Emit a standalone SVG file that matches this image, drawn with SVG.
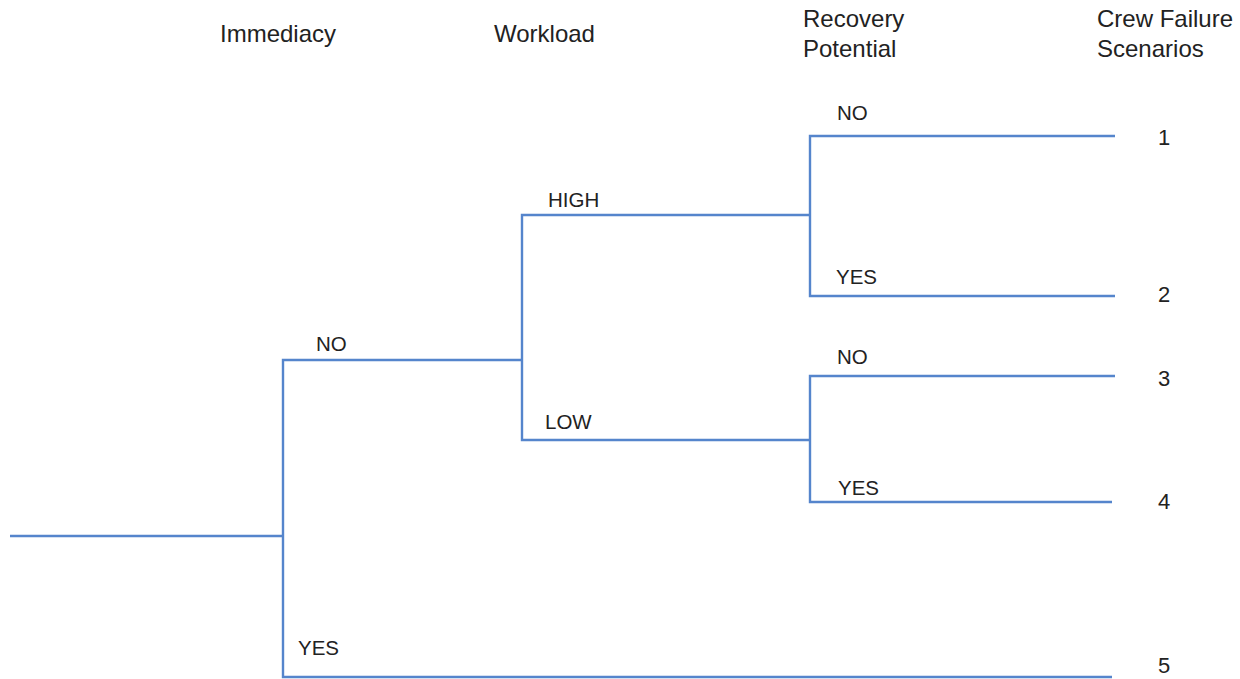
<svg xmlns="http://www.w3.org/2000/svg" width="1240" height="679" viewBox="0 0 1240 679">
  <style>
    .branch { fill: none; stroke: #5585cc; stroke-width: 2.4; stroke-linecap: butt; stroke-linejoin: miter; }
    .head { font-family: "Liberation Sans", Arial, sans-serif; font-size: 24px; fill: #222; }
    .lbl { font-family: "Liberation Sans", Arial, sans-serif; font-size: 20.5px; fill: #222; }
    .num { font-family: "Liberation Sans", Arial, sans-serif; font-size: 22px; fill: #222; }
  </style>
  <rect width="1240" height="679" fill="#ffffff"/>

  <!-- column headings -->
  <g id="headings">
    <text class="head" x="220" y="42">Immediacy</text>
    <text class="head" x="494" y="42">Workload</text>
    <text class="head" x="803" y="27">Recovery</text>
    <text class="head" x="803" y="57">Potential</text>
    <text class="head" x="1097" y="27">Crew Failure</text>
    <text class="head" x="1097" y="57">Scenarios</text>
  </g>

  <!-- event tree branches -->
  <g id="connectors">
    <path class="branch" d="M10,536 H283"/>
    <path class="branch" d="M1112,677 H283 V360 H522"/>
    <path class="branch" d="M810,215 H522 V440 H810"/>
    <path class="branch" d="M1115,136 H810 V296 H1115"/>
    <path class="branch" d="M1115,376 H810 V502 H1112"/>
  </g>

  <!-- branch labels -->
  <g id="immediacy-no"><text class="lbl" x="316" y="351">NO</text></g>
  <g id="immediacy-yes"><text class="lbl" x="298" y="655">YES</text></g>
  <g id="workload-high"><text class="lbl" x="548" y="207">HIGH</text></g>
  <g id="workload-low"><text class="lbl" x="545" y="429">LOW</text></g>
  <g id="recovery-high-no"><text class="lbl" x="837" y="120">NO</text></g>
  <g id="recovery-high-yes"><text class="lbl" x="836" y="284">YES</text></g>
  <g id="recovery-low-no"><text class="lbl" x="837" y="364">NO</text></g>
  <g id="recovery-low-yes"><text class="lbl" x="838" y="495">YES</text></g>

  <!-- scenario numbers -->
  <g id="scenario-1"><text class="num" x="1158" y="145">1</text></g>
  <g id="scenario-2"><text class="num" x="1158" y="302">2</text></g>
  <g id="scenario-3"><text class="num" x="1158" y="386">3</text></g>
  <g id="scenario-4"><text class="num" x="1158" y="509">4</text></g>
  <g id="scenario-5"><text class="num" x="1158" y="673">5</text></g>
</svg>
